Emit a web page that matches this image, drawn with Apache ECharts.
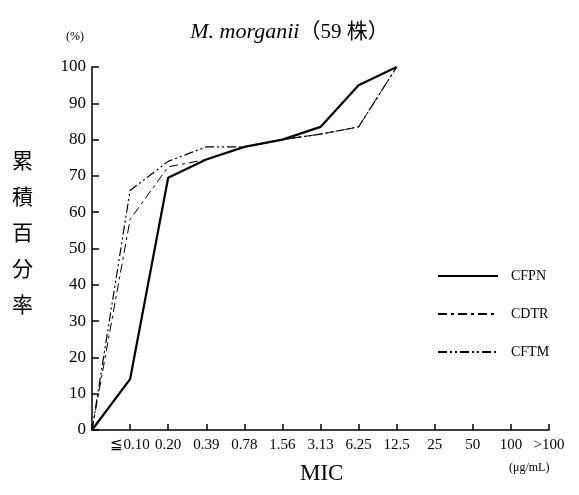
<!DOCTYPE html>
<html>
<head>
<meta charset="utf-8">
<script src="https://cdn.jsdelivr.net/npm/echarts@6/dist/echarts.min.js"></script>
<style>
  html, body { margin: 0; padding: 0; background: #fff; }
  #chart { width: 579px; height: 495px; }
</style>
</head>
<body>
<div id="chart"></div>
<script>
// MIC categories (first one is the origin, no label)
const micLabels = ["", "≦0.10", "0.20", "0.39", "0.78", "1.56", "3.13", "6.25", "12.5", "25", "50", "100", ">100"];
const yTicks = [0, 100, 10]; // min, max, interval

// cumulative % per drug
const cfpn = [0, 14, 69.5, 74.5, 78, 80, 83.5, 95, 100];
const cdtr = [0, 58, 72.5, 74.5, 78, 80, 81.5, 83.5, 100];
const cftm = [0, 66, 74, 78, 78, 80, 81.5, 83.5, 100];

const serif = "Liberation Serif";
let chart = echarts.init(document.getElementById("chart"));

chart.setOption({
  animation: false,
  backgroundColor: "#fff",
  title: {
    text: "{i|M. morganii}{n|（59 株）}",
    left: "center",
    top: 16,
    textStyle: {
      fontWeight: "normal",
      rich: {
        i: { fontFamily: serif, fontStyle: "italic", fontWeight: "normal", fontSize: 22, color: "#000" },
        n: { fontFamily: serif + ", Noto Sans CJK JP", fontWeight: "normal", fontSize: 21, color: "#000" },
      },
    },
  },
  legend: {
    orient: "vertical",
    left: 432,
    top: 264,
    itemWidth: 60,
    itemHeight: 10,
    itemGap: 24,
    itemStyle: { opacity: 0 },
    textStyle: { fontFamily: serif, fontSize: 14, color: "#000", padding: [0, 0, 0, 8] },
    data: ["CFPN", "CDTR", "CFTM"],
  },
  grid: { left: 92, right: 30, top: 67, bottom: 65 },
  xAxis: {
    type: "category",
    data: micLabels,
    boundaryGap: false,
    axisLine: { lineStyle: { color: "#000", width: 1.5 } },
    axisTick: { inside: true, length: 6, lineStyle: { color: "#000", width: 1.5 } },
    axisLabel: { fontFamily: serif, fontSize: 15, color: "#000", margin: 8, interval: 0 },
    splitLine: { show: false },
  },
  yAxis: {
    type: "value",
    min: yTicks[0],
    max: yTicks[1],
    interval: yTicks[2],
    axisLine: { show: true, lineStyle: { color: "#000", width: 1.5 } },
    axisTick: { show: true, inside: true, length: 7, lineStyle: { color: "#000", width: 1.5 } },
    axisLabel: { fontFamily: serif, fontSize: 17, color: "#000", margin: 6 },
    splitLine: { show: false },
  },
  series: [
    {
      name: "CFPN",
      type: "line",
      data: cfpn,
      symbol: "none",
      lineStyle: { color: "#000", width: 2.2, type: "solid" },
      itemStyle: { color: "#000" },
    },
    {
      name: "CDTR",
      type: "line",
      data: cdtr,
      symbol: "none",
      lineStyle: { color: "#000", width: 1, type: [9, 4, 3, 4] },
      itemStyle: { color: "#000" },
    },
    {
      name: "CFTM",
      type: "line",
      data: cftm,
      symbol: "none",
      lineStyle: { color: "#000", width: 1.2, type: [9, 3, 2, 3, 2, 3] },
      itemStyle: { color: "#000" },
    },
  ],
  graphic: [
    {
      type: "text",
      left: 12,
      top: 142,
      style: {
        text: "累\n積\n百\n分\n率",
        font: "21px 'Noto Sans CJK JP'",
        lineHeight: 36,
        fill: "#000",
      },
    },
    {
      type: "text",
      left: 66,
      top: 31,
      style: { text: "(%)", font: "12px " + serif, fill: "#000" },
    },
    {
      type: "text",
      left: 300,
      top: 462,
      style: { text: "MIC", font: "23px " + serif, fill: "#000" },
    },
    {
      type: "text",
      left: 509,
      top: 462,
      style: { text: "(μg/mL)", font: "12px " + serif, fill: "#000" },
    },
  ],
});
</script>
</body>
</html>
